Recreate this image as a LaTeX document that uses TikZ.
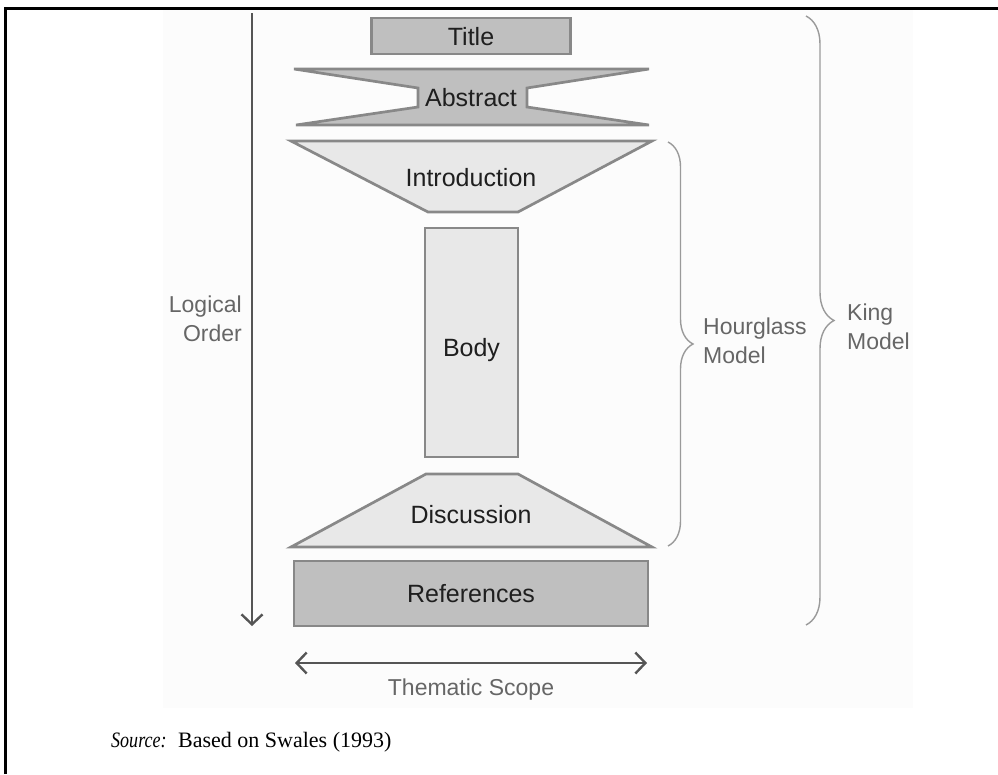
\documentclass[tikz,border=0pt]{standalone}
\usepackage{fontspec}
\setmainfont{Liberation Sans}
\newfontfamily\srcfont{Liberation Serif}
\usetikzlibrary{arrows.meta,decorations.pathreplacing}

\definecolor{edgegray}{HTML}{888888}
\definecolor{darkfill}{HTML}{BFBFBF}
\definecolor{lightfill}{HTML}{E8E8E8}
\definecolor{labelgray}{HTML}{666666}
\definecolor{arrowgray}{HTML}{555555}
\definecolor{bracegray}{HTML}{9A9A9A}
\definecolor{pagetint}{HTML}{FCFCFC}

\begin{document}
\begin{tikzpicture}[x=1pt,y=-1pt,
  part/.style={draw=edgegray,line width=2.7pt,line join=miter},
  partbox/.style={part,rectangle,inner sep=0pt},
  boxtext/.style={font=\fontsize{25}{29}\selectfont,text=black!88,inner sep=0pt},
  sidetext/.style={font=\fontsize{23}{29}\selectfont,text=labelgray,inner sep=0pt},
  axis/.style={draw=arrowgray,line width=2.4pt,
    arrows={-Straight Barb[length=10pt,width=21pt,line width=2.4pt]}},
  curly/.style={draw=bracegray,line width=1.4pt,decorate,
    decoration={brace,amplitude=#1,aspect=0.5}},
]
\useasboundingbox (0,0) rectangle (998,774);
\fill[white] (0,0) rectangle (998,774);
\fill[pagetint] (163,10) rectangle (913,708);

% frame lines along the top and the left side
\draw[line width=3pt] (5,774) -- (5,8.5) -- (998,8.5);

% the stacked parts of the paper
\node[partbox,fill=darkfill,minimum width=199pt,minimum height=36pt] (title) at (471,36) {};
\node[boxtext] (titletext) at (471,37) {Title};

\path[part,fill=darkfill] (294,69) -- (649,69) -- (527,88) -- (527,107)
  -- (649,125) -- (296,125) -- (418,107) -- (418,88) -- cycle;
\node[boxtext] (abstract) at (471,98) {Abstract};

\path[part,fill=lightfill] (291,141) -- (652,141) -- (518,212) -- (428,212) -- cycle;
\node[boxtext] (intro) at (471,178) {Introduction};

\node[partbox,fill=lightfill,minimum width=93pt,minimum height=229pt] (body) at (471.5,342.5) {};
\node[boxtext] (bodytext) at (471.5,350) {Body};

\path[part,fill=lightfill] (426,474) -- (518,474) -- (652,547) -- (291,547) -- cycle;
\node[boxtext] (discussion) at (471,515) {Discussion};

\node[partbox,fill=darkfill,minimum width=354pt,minimum height=65pt] (refs) at (471,593.5) {};
\node[boxtext] (refstext) at (471,594) {References};

% logical order axis
\coordinate (ordertop) at (252,13);
\coordinate (orderend) at (252,626);
\draw[axis] (ordertop) -- (orderend);
\node[sidetext,align=right,anchor=east] (order) at (242,319) {Logical\\Order};

% thematic scope axis
\coordinate (scopeleft) at (295,663);
\coordinate (scoperight) at (647,663);
\draw[axis,arrows={Straight Barb[length=10pt,width=21pt,line width=2.4pt]-Straight Barb[length=10pt,width=21pt,line width=2.4pt]}]
  (scopeleft) -- (scoperight);
\node[sidetext] (scope) at (471,690) {Thematic Scope};

% braces for the two models
\coordinate (hgtop) at (668,142);
\coordinate (hgbot) at (668,546);
\draw[curly=25pt] (hgtop) -- (hgbot);
\node[sidetext,align=left,anchor=west] (hourglass) at (703,341) {Hourglass\\Model};

\coordinate (kingtop) at (806,16);
\coordinate (kingbot) at (806,625);
\draw[curly=28pt] (kingtop) -- (kingbot);
\node[sidetext,align=left,anchor=west] (king) at (847,327) {King\\Model};

% source line
\node[font=\srcfont\fontsize{22}{26}\selectfont,anchor=base west,inner sep=0pt] (sourcetag)
  at (111,747) {\scalebox{0.82}[1]{\textit{Source:}}};
\node[font=\srcfont\fontsize{22}{26}\selectfont,anchor=base west,inner sep=0pt] (source)
  at (178,747) {Based on Swales (1993)};
\end{tikzpicture}
\end{document}
